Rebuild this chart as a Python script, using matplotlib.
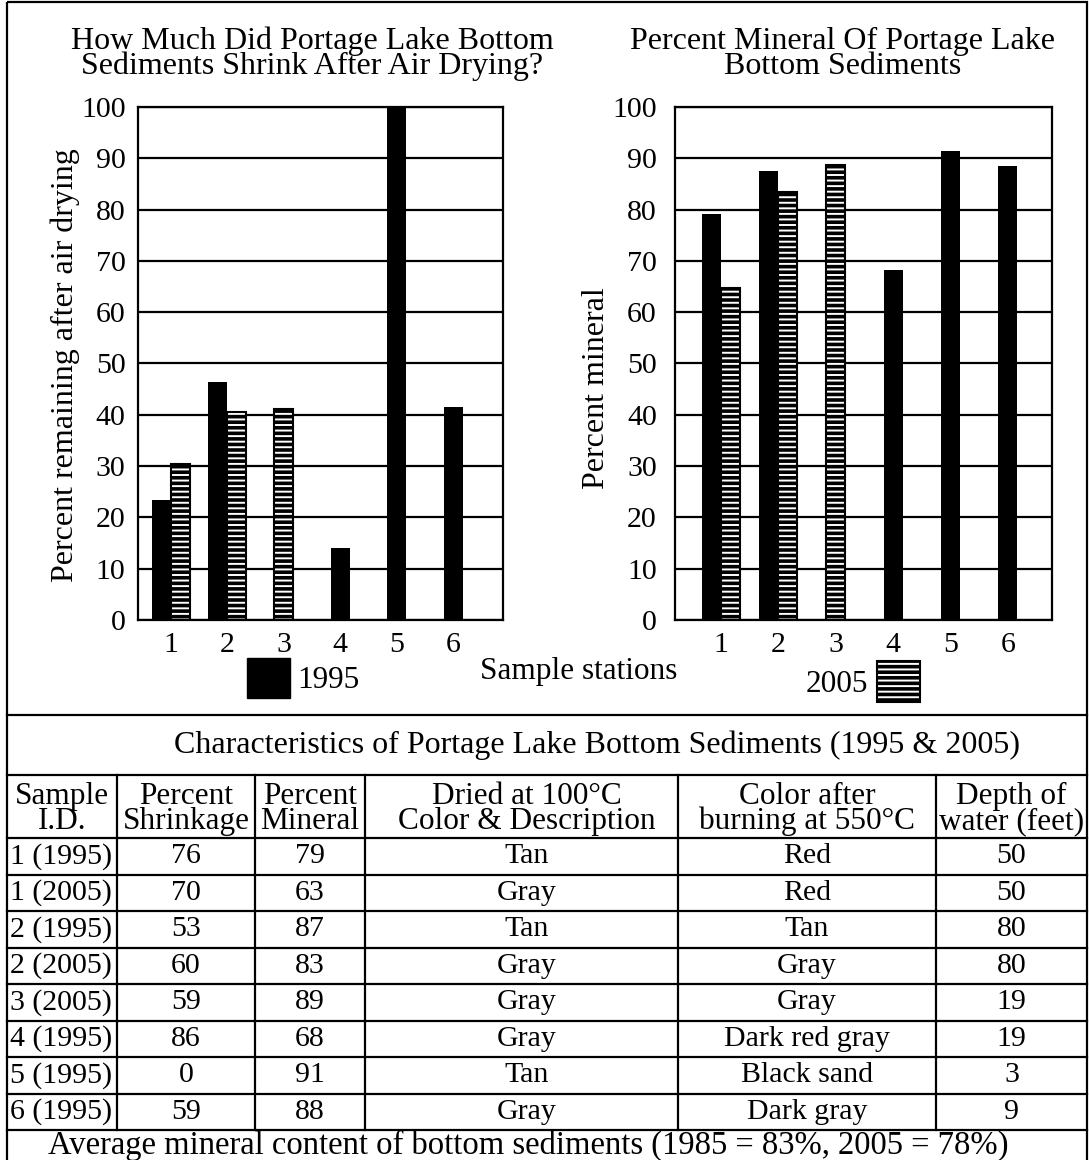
import numpy as np
import matplotlib.pyplot as plt
import matplotlib.patches as mpatches

plt.rcParams['font.family'] = ['Liberation Serif', 'DejaVu Serif']
plt.rcParams['hatch.linewidth'] = 1.4

# ---------------- data ----------------
stations = [1, 2, 3, 4, 5, 6]
remain_1995 = [23.3, 46.4, None, 14.0, 100.0, 41.6]
remain_2005 = [30.4, 40.6, 41.1, None, None, None]
mineral_1995 = [79.1, 87.5, None, 68.2, 91.4, 88.5]
mineral_2005 = [64.7, 83.4, 88.7, None, None, None]

table_title = 'Characteristics of Portage Lake Bottom Sediments (1995 & 2005)'
col_heads = ['Sample\nI.D.', 'Percent\nShrinkage', 'Percent\nMineral',
             'Dried at 100°C\nColor & Description',
             'Color after\nburning at 550°C', 'Depth of\nwater (feet)']
sample_ids = ['1 (1995)', '1 (2005)', '2 (1995)', '2 (2005)',
              '3 (2005)', '4 (1995)', '5 (1995)', '6 (1995)']
shrinkage = [76, 70, 53, 60, 59, 86, 0, 59]
mineral = [79, 63, 87, 83, 89, 68, 91, 88]
dried_color = ['Tan', 'Gray', 'Tan', 'Gray', 'Gray', 'Gray', 'Tan', 'Gray']
burnt_color = ['Red', 'Red', 'Tan', 'Gray', 'Gray', 'Dark red gray',
               'Black sand', 'Dark gray']
depth = [50, 50, 80, 80, 19, 19, 3, 9]
footnote = 'Average mineral content of bottom sediments (1985 = 83%, 2005 = 78%)'

W, H = 1089, 1160
fig = plt.figure(figsize=(W / 100, H / 100), dpi=100)


def px_axes(l, t, r, b):
    return fig.add_axes([l / W, 1 - b / H, (r - l) / W, (b - t) / H])


def hatched(ax, x, h, w):
    ax.bar(x, h, w, color='black', edgecolor='white', hatch='---', linewidth=0, zorder=3)
    ax.bar(x, h, w, fill=False, edgecolor='black', linewidth=1.5, zorder=4)


def draw_chart(ax, v95, v05, w, xlim):
    for s, a, b in zip(stations, v95, v05):
        if a is not None and b is not None:
            ax.bar(s - w / 2, a, w, color='black', zorder=3)
            hatched(ax, s + w / 2, b, w)
        elif a is not None:
            ax.bar(s, a, w, color='black', zorder=3)
        else:
            hatched(ax, s, b, w)
    ax.set_xlim(*xlim)
    ax.set_ylim(0, 100)
    ax.set_yticks(range(0, 101, 10))
    ax.set_xticks(stations)
    ax.yaxis.grid(True, color='black', linewidth=1.6)
    ax.set_axisbelow(True)
    for sp in ax.spines.values():
        sp.set_linewidth(1.6)
    ax.tick_params(length=0, labelsize=21.5)


ax1 = px_axes(138, 107, 503, 620)
draw_chart(ax1, remain_1995, remain_2005, 0.34, (0.42, 6.88))
ax1.tick_params(axis='y', pad=9)
ax1.tick_params(axis='x', pad=9)

ax2 = px_axes(675, 107, 1052, 620)
draw_chart(ax2, mineral_1995, mineral_2005, 0.33, (0.2, 6.77))
ax2.tick_params(axis='y', pad=13)
ax2.tick_params(axis='x', pad=9)

# ---------------- overlay in pixel coords ----------------
ov = fig.add_axes([0, 0, 1, 1])
ov.set_xlim(0, W)
ov.set_ylim(H, 0)
ov.axis('off')

fs = 23
ov.text(312, 54, 'How Much Did Portage Lake Bottom\nSediments Shrink After Air Drying?',
        ha='center', va='center', ma='center', fontsize=fs, linespacing=0.82)
ov.text(843, 54, 'Percent Mineral Of Portage Lake\nBottom Sediments',
        ha='center', va='center', ma='center', fontsize=fs, linespacing=0.82)
ov.text(65, 365, 'Percent remaining after air drying', rotation=90,
        ha='center', va='center', fontsize=fs)
ov.text(597, 388, 'Percent mineral', rotation=90, ha='center', va='center', fontsize=fs)

# legend
ov.add_patch(mpatches.Rectangle((247, 658), 43, 40, color='black'))
ov.text(297, 680, '1995', ha='left', va='center', fontsize=22.5)
ov.text(579, 672, 'Sample stations', ha='center', va='center', fontsize=22.5)
ov.text(868, 685, '2005', ha='right', va='center', fontsize=22.5)
ov.add_patch(mpatches.Rectangle((877, 661), 43, 41, facecolor='black',
                                edgecolor='white', hatch='---', linewidth=0))
ov.add_patch(mpatches.Rectangle((877, 661), 43, 41, fill=False,
                                edgecolor='black', linewidth=1.5))

# outer frame and separator
lw = 1.6
ov.add_patch(mpatches.Rectangle((7, 2), 1080, 1160, fill=False, edgecolor='black', linewidth=lw))
ov.plot([7, 1087], [715, 715], color='black', lw=lw)

# table
col_edges = [7, 117, 255, 365, 678, 936, 1087]
head_top, head_bot = 775, 838
row_h = 36.5
ov.text(597, 745, table_title, ha='center', va='center', fontsize=23)
ov.plot([7, 1087], [head_top, head_top], color='black', lw=lw)
n = len(sample_ids)
rows_bot = head_bot + n * row_h
for xe in col_edges[1:-1]:
    ov.plot([xe, xe], [head_top, rows_bot], color='black', lw=lw)
for i in range(n + 1):
    y = head_bot + i * row_h
    ov.plot([7, 1087], [y, y], color='black', lw=lw)

centers = [(a + b) / 2 for a, b in zip(col_edges[:-1], col_edges[1:])]
centers[3] = 527
for c, head in zip(centers, col_heads):
    ov.text(c, 809, head, ha='center', va='center', ma='center',
            fontsize=22.5, linespacing=0.82)

for i in range(n):
    y = head_bot + (i + 0.5) * row_h
    ov.text(10, y, sample_ids[i], ha='left', va='center', fontsize=21.5)
    vals = [shrinkage[i], mineral[i], dried_color[i], burnt_color[i], depth[i]]
    for c, v in zip(centers[1:], vals):
        ov.text(c, y, str(v), ha='center', va='center', fontsize=21.5)

ov.text(528, (rows_bot + H) / 2, footnote, ha='center', va='center', fontsize=23.5)

fig.savefig('out.png', dpi=100)
